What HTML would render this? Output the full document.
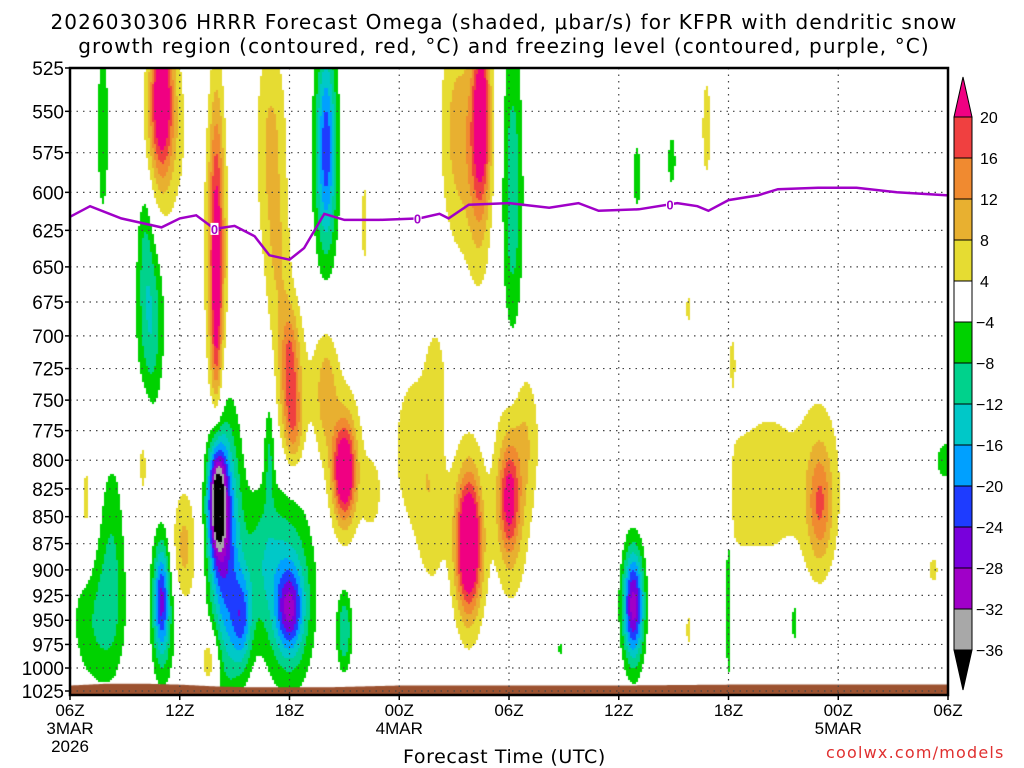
<!DOCTYPE html>
<html><head><meta charset="utf-8">
<style>
html,body{margin:0;padding:0;background:#fff;width:1024px;height:768px;overflow:hidden;font-family:"Liberation Sans",sans-serif;}
.t{position:absolute;color:#000;white-space:nowrap;}
</style></head>
<body>
<div class="t" style="left:-8px;width:1024px;top:10px;text-align:center;font-size:20px;line-height:24px;font-family:'DejaVu Sans',sans-serif;letter-spacing:1.1px;">2026030306 HRRR Forecast Omega (shaded, μbar/s) for KFPR with dendritic snow<br>growth region (contoured, red, °C) and freezing level (contoured, purple, °C)</div>
<canvas id="cv" width="1024" height="768" style="position:absolute;left:0;top:0"></canvas>
<svg id="sv" width="1024" height="768" style="position:absolute;left:0;top:0"></svg>
<div class="t" style="left:403px;top:746px;font-size:19px;font-family:'DejaVu Sans',sans-serif;letter-spacing:0.6px;">Forecast Time (UTC)</div>
<div class="t" style="left:826px;top:743px;font-size:16px;color:#e03030;letter-spacing:1.2px;font-family:'DejaVu Sans',sans-serif;">coolwx.com/models</div>
<script>
// ---- data ----
const blobHour = [8.0,8.0,8.0,5.0,5.2,11.0,12.0,12.2,12.2,14.0,16.1,15.0,15.0,16.5,18.8,19.8,20.0,21.8,21.8,24.0,24.2,25.0,22.5,22.4,21.8,24.2,14.0,14.0,4.4,4.1,1.8,8.05,8.5,9.4,10.5,12.0,12.0,5.0,5.2,1.5,2.3,30.8,15.0,41.0,41.0,38.2,36.3,11.4,34.8,36.0,6.2,7.7,4.0,10.9,0.9,47.9,32.9,47.2,39.6,21.0,36.2,33.8,33.8,26.8,31.0];
const blobPres = [640,690,640,540,560,570,720,770,740,740,620,810,800,830,790,850,730,875,870,835,830,780,550,570,575,600,570,580,690,630,560,835,880,950,890,940,920,930,940,950,880,935,960,840,820,820,830,650,560,900,880,990,800,790,840,800,580,900,950,555,720,680,960,980,590];
const blobAmp  = [18,6,6,22,9,9,12,10,6,9,5,24,7,5,6,5,5,28,7,17,7,5,17,11,6,-11,-16,-7,-12,-6,-7,-34,-22,-16,-8,-18,-12,-20,-6,-8,-7,-30,-12,11,6,6,5,6,5,-7,10,9,5,-8,5,-8,-6,5,-6,6,5,5,5,-5,-6];
const blobSigH = [0.28,0.15,0.55,0.4,0.8,0.6,0.35,0.35,0.8,0.45,0.2,0.4,0.8,0.4,1.0,0.6,0.4,0.45,0.7,0.4,0.8,0.5,0.3,0.45,0.8,0.4,0.35,0.6,0.5,0.3,0.25,0.35,0.6,0.4,0.8,0.5,1.0,0.3,0.6,1.0,0.5,0.4,0.3,0.45,1.0,1.2,0.8,0.5,0.3,0.15,0.5,0.4,0.3,0.2,0.3,0.4,0.2,0.3,0.15,0.6,0.2,0.12,0.12,0.12,0.2];
const blobSigP = [80,40,80,30,40,50,30,25,50,35,35,28,55,25,60,60,30,42,75,35,80,40,30,55,50,75,45,50,45,30,45,36,90,35,50,30,70,40,60,50,70,40,30,35,70,60,40,40,40,100,40,25,40,35,45,12,15,15,25,50,25,15,20,10,20];
const fzHour = [0,1.1,2.8,5,6,6.9,7.9,9,10.1,10.9,12,12.8,13.9,15,16.9,19.1,20.2,20.7,21.8,24,26.2,27.8,28.9,31.1,33.2,34.3,34.9,36,37.6,38.7,40.9,43,45.2,48];
const fzPres = [616,609,617,623,617,615,624,622,629,642,645,637,614,618,618,617,614,617,608,607,610,607,612,611,607,609,612,605,602,598,597,597,600,602];
const sfcHour = [0,2,4,6,8,10,12,14,16,18,24,30,36,42,48];
const sfcPres = [1019,1017,1017,1018,1020,1021,1021,1021,1020,1019,1019,1019,1018,1018,1018];
const levels = [-36,-32,-28,-24,-20,-16,-12,-8,-4,4,8,12,16,20];
const levelLabels = ["-36","-32","-28","-24","-20","-16","-12","-8","-4","4","8","12","16","20"];
const colors = ["#000000","#a8a8a8","#a000c8","#7800dc","#1e3cff","#00a0ff","#00c8c8","#00d28c","#00d200","#ffffff","#e6dc32","#e8b030","#f08a30","#f04040","#f00082"];
const pTicks = [525,550,575,600,625,650,675,700,725,750,775,800,825,850,875,900,925,950,975,1000,1025];
const tTicks = [0,6,12,18,24,30,36,42,48];
const tLabels = ["06Z","12Z","18Z","00Z","06Z","12Z","18Z","00Z","06Z"];
const dateLabels = {0:["3MAR","2026"],18:["4MAR"],42:["5MAR"]};

// ---- axes ----
const X0=70,X1=948,Y0=68,Y1=695;
const pMin=525,pMax=1025,yBot=691;
const x=h=>X0+(h/48)*(X1-X0);
const y=p=>Y0+(yBot-Y0)*Math.log(p/pMin)/Math.log(pMax/pMin);
const hOfX=v=>(v-X0)/(X1-X0)*48;
function interp(xs,ys,v){if(v<=xs[0])return ys[0];for(let i=1;i<xs.length;i++){if(v<=xs[i]){const t=(v-xs[i-1])/(xs[i]-xs[i-1]);return ys[i-1]+t*(ys[i]-ys[i-1]);}}return ys[ys.length-1];}
function field(px,py){let s=0;for(let i=0;i<blobHour.length;i++){const dx=(px-x(blobHour[i]))/(blobSigH[i]*(X1-X0)/48);const cy=y(blobPres[i]);const sy=y(blobPres[i]+blobSigP[i])-cy;const dy=(py-cy)/sy;const r=dx*dx+dy*dy;if(r<30)s+=blobAmp[i]*Math.exp(-r/2);}return s;}
function colorFor(v){let k=0;while(k<levels.length&&v>=levels[k])k++;return colors[k];}

const cv=document.getElementById('cv');const ctx=cv.getContext('2d');
ctx.fillStyle='#fff';ctx.fillRect(X0,Y0,X1-X0,Y1-Y0);
const C=2;
for(let py=Y0;py<Y1;py+=C){for(let px=X0;px<X1;px+=C){const v=field(px+1,py+1);const c=colorFor(v);if(c!=='#ffffff'){ctx.fillStyle=c;ctx.fillRect(px,py,C,C);}}}
ctx.fillStyle='#9c5230';ctx.beginPath();ctx.moveTo(X0,Y1);
for(let px=X0;px<=X1;px+=2){ctx.lineTo(px,y(interp(sfcHour,sfcPres,hOfX(px))));}
ctx.lineTo(X1,Y1);ctx.closePath();ctx.fill();

// ---- svg overlay ----
const NS='http://www.w3.org/2000/svg';const sv=document.getElementById('sv');
function mk(tag,attrs,parent){const e=document.createElementNS(NS,tag);for(const k in attrs)e.setAttribute(k,attrs[k]);(parent||sv).appendChild(e);return e;}
pTicks.forEach((p,i)=>{const l=mk('line',{x1:X0,x2:X1,y1:y(p),y2:y(p),stroke:'#444','stroke-width':1.2,'stroke-dasharray':'1.5 5'});


const tk=mk('line',{x1:X0-5,x2:X0,y1:y(p),y2:y(p),stroke:'#000','stroke-width':1.5});


const t=mk('text',{x:X0-6,y:y(p)+7,'text-anchor':'end','font-size':19,'font-family':'Liberation Sans, sans-serif'});t.textContent=p;

});
tTicks.forEach((h,i)=>{if(i>0&&i<tTicks.length-1){const l=mk('line',{x1:x(h),x2:x(h),y1:Y0,y2:Y1,stroke:'#444','stroke-width':1.2,'stroke-dasharray':'1.5 5'});

}
const tk=mk('line',{x1:x(h),x2:x(h),y1:Y1,y2:Y1+5,stroke:'#000','stroke-width':1.5});


const t=mk('text',{x:x(h),y:Y1+21,'text-anchor':'middle','font-size':17,'font-family':'Liberation Sans, sans-serif'});t.textContent=tLabels[i];


if(dateLabels[h]){dateLabels[h].forEach((s,j)=>{const d=mk('text',{x:x(h),y:Y1+39+j*18,'text-anchor':'middle','font-size':17,'font-family':'Liberation Sans, sans-serif'});d.textContent=s;

});}});
let dstr='';fzHour.forEach((h,i)=>{dstr+=(i?'L':'M')+x(h).toFixed(1)+' '+y(fzPres[i]).toFixed(1);});
const fl=mk('path',{d:dstr,fill:'none',stroke:'#a000c8','stroke-width':2.5});


[7.9,19.0,32.8].forEach(h=>{const yy=y(interp(fzHour,fzPres,h));mk('rect',{x:x(h)-4,y:yy-6,width:8,height:12,fill:'#fff'});
const t=mk('text',{x:x(h),y:yy+5,'text-anchor':'middle','font-size':13,'font-weight':'bold',fill:'#a000c8','font-family':'Liberation Sans, sans-serif'});t.textContent='0';

});
const fr=mk('rect',{x:X0,y:Y0,width:X1-X0,height:Y1-Y0,fill:'none',stroke:'#000','stroke-width':2.5});


const CX=954,CW=18,cTop=117,step=41;
const cb=mk('g',{});
const topTip=77,botTip=690;
const n=levels.length;
mk('polygon',{points:`${CX},${cTop} ${CX+CW},${cTop} ${CX+CW/2},${topTip}`,fill:colors[n],stroke:'#000','stroke-width':1},cb);
for(let k=n-1;k>=1;k--){const yy=cTop+(n-1-k)*step;mk('rect',{x:CX,y:yy,width:CW,height:step,fill:colors[k],stroke:'#000','stroke-width':1},cb);}
const cBot=cTop+(n-1)*step;
mk('polygon',{points:`${CX},${cBot} ${CX+CW},${cBot} ${CX+CW/2},${botTip}`,fill:colors[0],stroke:'#000','stroke-width':1},cb);
for(let k=0;k<n;k++){const yy=cTop+(n-1-k)*step;const t=mk('text',{x:CX+CW+4+(levels[k]>0?4:0),y:yy+6,'font-size':16,'font-family':'Liberation Sans, sans-serif'},cb);t.textContent=levelLabels[k].replace('-','\u2212');

}
</script>
</body></html>
